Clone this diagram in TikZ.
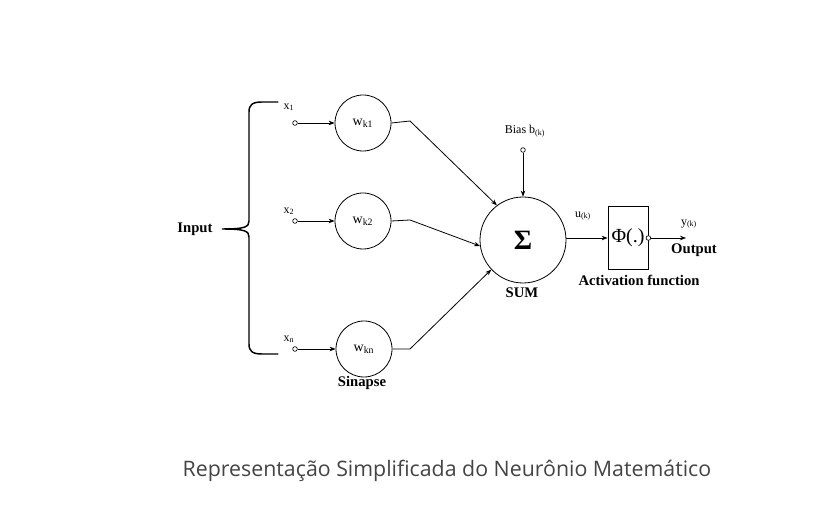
\documentclass[tikz,border=0pt]{standalone}
\usepackage{fontspec}
\setmainfont{Liberation Serif}
\newfontfamily\capfont{Open Sans}
\usetikzlibrary{arrows.meta}
\definecolor{capgray}{HTML}{444444}
\begin{document}
\begin{tikzpicture}[x=0.75pt,y=-0.75pt,
  neuron/.style={circle,draw,line width=0.6pt,minimum size=42pt,inner sep=0pt,font=\fontsize{10.5}{11}\selectfont},
  term/.style={circle,draw,fill=white,line width=0.5pt,minimum size=3.5pt,inner sep=0pt},
  conn/.style={line width=0.6pt,-{Stealth[length=4.5pt,width=3.4pt]}},
  lbl/.style={font=\fontsize{9}{10}\selectfont,inner sep=0pt},
  blbl/.style={font=\fontsize{11}{12}\selectfont\bfseries,inner sep=0pt}]
\useasboundingbox (0,0) rectangle (831,505);
% brace
\draw[line width=1.1pt,line cap=round]
  (278,102) -- (262,102) .. controls (252,102) and (249,105) .. (249,112) -- (249,221)
  .. controls (249,227) and (245,229) .. (222,229)
  .. controls (245,229) and (249,231) .. (249,237) -- (249,344)
  .. controls (249,351) and (252,354) .. (262,354) -- (278,354);
\node[blbl] (input) at (195,229) {Input};
% inputs
\node[neuron] (w1) at (363,123) {w\textsubscript{k1}};
\node[neuron] (w2) at (363,221) {w\textsubscript{k2}};
\node[neuron] (wn) at (364,349) {w\textsubscript{kn}};
\node[term] (i1) at (295,123) {};
\node[term] (i2) at (295,221) {};
\node[term] (in) at (295,349) {};
\node[lbl] (lx1) at (289,107) {x\textsubscript{1}};
\node[lbl] (lx2) at (289,211) {x\textsubscript{2}};
\node[lbl] (lxn) at (289,339) {x\textsubscript{n}};
\draw[conn] (i1) -- (w1);
\draw[conn] (i2) -- (w2);
\draw[conn] (in) -- (wn);
\node[blbl] (sin) at (362,383) {Sinapse};
% sum
\node[circle,draw,line width=0.6pt,minimum size=64.5pt,inner sep=0pt] (sum) at (523,240) {\fontsize{21}{21}\selectfont\bfseries Σ};
\coordinate (c1) at (410,121);
\coordinate (c2) at (410,220);
\coordinate (cn) at (410,349);
\draw[conn] (w1.east) -- (c1) -- (sum.127);
\draw[conn] (w2.east) -- (c2) -- (sum.188);
\draw[conn] (wn.east) -- (cn) -- (sum.223);
\node[term] (bt) at (523,150) {};
\node[lbl] (bias) at (525,131) {Bias b\textsubscript{(k)}};
\draw[conn] (bt) -- (sum);
\node[blbl] (sumlbl) at (522,293) {SUM};
% activation
\node[draw,line width=0.6pt,minimum width=30pt,minimum height=47pt,inner sep=0pt,font=\fontsize{15}{16}\selectfont] (act) at (628,238) {Φ(.)};
\draw[conn] (sum.east |- act.west) -- (act.west);
\node[lbl] (u) at (583,216) {u\textsubscript{(k)}};
\node[term] (ot) at (act.east) {};
\coordinate (oend) at (686,238);
\draw[conn] (ot) -- (oend);
\node[lbl] (y) at (689,224) {y\textsubscript{(k)}};
\node[blbl] (out) at (694,250) {Output};
\node[blbl] (actlbl) at (639,280) {Activation function};
% caption
\node[font=\capfont\fontsize{16}{18}\selectfont,text=capgray,inner sep=0pt] (cap) at (447,471) {Representação Simplificada do Neurônio Matemático};
\end{tikzpicture}
\end{document}
